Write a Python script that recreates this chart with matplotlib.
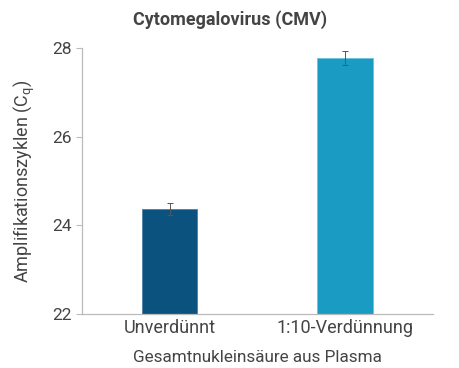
import numpy as np
import matplotlib.pyplot as plt

categories = ["Unverdünnt", "1:10-Verdünnung"]
cq_values = [24.37, 27.77]
cq_errors = [0.13, 0.16]
bar_colors = ["#0b527e", "#1a9bc4"]

plt.rcParams['font.family'] = ['Roboto', 'DejaVu Sans']
text_col = "#444444"

fig = plt.figure(figsize=(4.6, 3.68), dpi=100)
ax = fig.add_axes([0.178, 0.147, 0.763, 0.723])

x = np.arange(len(categories))
ax.bar(x, np.array(cq_values) - 22, bottom=22, width=0.315, color=bar_colors,
       edgecolor=["#4d7fa3", "#6cc0dc"], linewidth=0.6,
       yerr=cq_errors, ecolor="#555555", capsize=2.5,
       error_kw=dict(elinewidth=0.7, capthick=0.7))

ax.set_xlim(-0.5, 1.5)
ax.set_ylim(22, 28)
ax.set_yticks([22, 24, 26, 28])
ax.set_xticks(x)
ax.set_xticklabels(categories, fontsize=13, color=text_col)
ax.tick_params(axis='x', length=0, pad=4)
ax.tick_params(axis='y', length=4, width=0.8, color="#bbbbbb", labelsize=12.5,
               labelcolor=text_col, pad=3)
for s in ['top', 'right']:
    ax.spines[s].set_visible(False)
for s in ['left', 'bottom']:
    ax.spines[s].set_color("#bbbbbb")
    ax.spines[s].set_linewidth(0.9)

ax.set_xlabel("Gesamtnukleinsäure aus Plasma", fontsize=12.3, color=text_col, labelpad=9)
ax.set_ylabel(r"Amplifikationszyklen (C$_\mathregular{q}$)", fontsize=13, color=text_col, labelpad=11)
fig.suptitle("Cytomegalovirus (CMV)", fontsize=13, fontweight='bold', color=text_col,
             x=0.5, y=0.972, va='top')

plt.savefig("out.png", dpi=100)
